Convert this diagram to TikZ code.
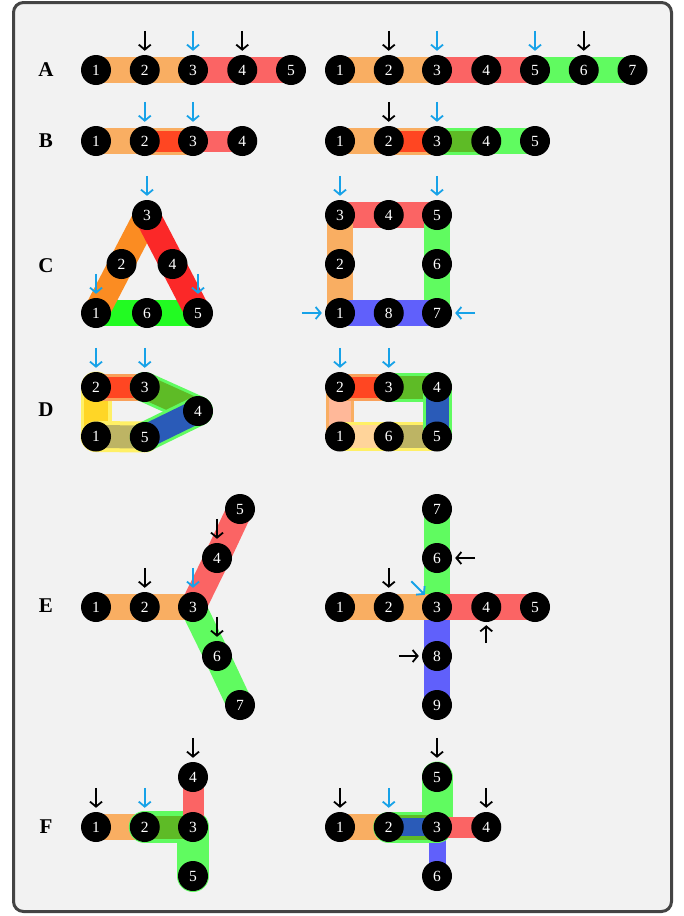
\documentclass[tikz,border=0pt]{standalone}
\usepackage{fontspec}
\setmainfont{Liberation Serif}
\usetikzlibrary{arrows.meta}
\pgfdeclarelayer{bg}
\pgfsetlayers{bg,main}
\definecolor{cOr}{HTML}{F9AE62}
\definecolor{cRd}{HTML}{FB6464}
\definecolor{cGr}{HTML}{60FB60}
\definecolor{cBu}{HTML}{6060FB}
\definecolor{cOrT}{HTML}{FB8C22}
\definecolor{cRdT}{HTML}{FB2828}
\definecolor{cGrT}{HTML}{22FB22}
\definecolor{cRO}{HTML}{FF4622}
\definecolor{cROo}{HTML}{F9A05A}
\definecolor{cDG}{HTML}{5EBB26}
\definecolor{cDB}{HTML}{2A5BB8}
\definecolor{cYe}{HTML}{FFD626}
\definecolor{cYo}{HTML}{FFF066}
\definecolor{cOl}{HTML}{BDB464}
\definecolor{cSa}{HTML}{FFB899}
\definecolor{cPe}{HTML}{FFD49A}
\definecolor{cArB}{HTML}{17A2E8}
\definecolor{cBg}{HTML}{F2F2F2}
\definecolor{cBd}{HTML}{444444}
\newcommand{\arrdn}[2]{\draw[#1] ([yshift=24pt]#2.north) -- ([yshift=4pt]#2.north);}
\newcommand{\arrup}[2]{\draw[#1] ([yshift=-21pt]#2.south) -- ([yshift=-3pt]#2.south);}
\newcommand{\arrlt}[2]{\draw[#1] ([xshift=23pt]#2.east) -- ([xshift=3pt]#2.east);}
\newcommand{\arrrt}[2]{\draw[#1] ([xshift=-23pt]#2.west) -- ([xshift=-3pt]#2.west);}
\begin{document}
\begin{tikzpicture}[x=1pt,y=-1pt,
  nd/.style={circle,fill=black,minimum size=30pt,inner sep=0pt,text=white,font=\fontsize{15.5}{15.5}\selectfont},
  lbl/.style={font=\bfseries\fontsize{21}{21}\selectfont},
  sg/.style={line width=26pt,line cap=round,line join=round,draw=#1},
  ak/.style={-{Straight Barb[length=5pt,width=12pt]},line width=1.8pt,draw=black},
  ab/.style={ak,draw=cArB}]
\useasboundingbox (0,0) rectangle (684,916);
\begin{pgfonlayer}{bg}
\fill[white] (0,0) rectangle (684,916);
\draw[line width=3pt,draw=cBd,fill=cBg,rounded corners=10pt] (13.5,2.5) rectangle (671.5,911.5);
\end{pgfonlayer}

% labels
\node[lbl] (LA) at (46,70) {A};
\node[lbl] (LB) at (46,141) {B};
\node[lbl] (LC) at (46,266) {C};
\node[lbl] (LD) at (46,410) {D};
\node[lbl] (LE) at (46,606) {E};
\node[lbl] (LF) at (46,827) {F};

% ---- A
\node[nd] (a1) at (96,70) {1};
\node[nd] (a2) at (144.75,70) {2};
\node[nd] (a3) at (193,70) {3};
\node[nd] (a4) at (242.25,70) {4};
\node[nd] (a5) at (291,70) {5};
\node[nd] (ar1) at (340,70) {1};
\node[nd] (ar2) at (388.75,70) {2};
\node[nd] (ar3) at (437,70) {3};
\node[nd] (ar4) at (486.25,70) {4};
\node[nd] (ar5) at (535,70) {5};
\node[nd] (ar6) at (583.75,70) {6};
\node[nd] (ar7) at (632.5,70) {7};
% ---- B
\node[nd] (b1) at (96,141) {1};
\node[nd] (b2) at (144.75,141) {2};
\node[nd] (b3) at (193,141) {3};
\node[nd] (b4) at (242.25,141) {4};
\node[nd] (br1) at (340,141) {1};
\node[nd] (br2) at (388.75,141) {2};
\node[nd] (br3) at (437,141) {3};
\node[nd] (br4) at (486.25,141) {4};
\node[nd] (br5) at (535,141) {5};
% ---- C
\node[nd] (c1) at (96,313) {1};
\node[nd] (c2) at (121.5,264) {2};
\node[nd] (c3) at (147,215) {3};
\node[nd] (c4) at (172.5,264) {4};
\node[nd] (c5) at (198,313) {5};
\node[nd] (c6) at (147,313) {6};
\node[nd] (cr3) at (340,215) {3};
\node[nd] (cr4) at (388.75,215) {4};
\node[nd] (cr5) at (437,215) {5};
\node[nd] (cr2) at (340,264) {2};
\node[nd] (cr6) at (437,264) {6};
\node[nd] (cr1) at (340,313) {1};
\node[nd] (cr8) at (388.75,313) {8};
\node[nd] (cr7) at (437,313) {7};
% ---- D
\node[nd] (d2) at (96,387) {2};
\node[nd] (d3) at (144.75,387) {3};
\node[nd] (d4) at (198,411) {4};
\node[nd] (d1) at (96,436.5) {1};
\node[nd] (d5) at (144.75,437) {5};
\node[nd] (dr2) at (340,387) {2};
\node[nd] (dr3) at (388.75,387) {3};
\node[nd] (dr4) at (437,387) {4};
\node[nd] (dr1) at (340,436.5) {1};
\node[nd] (dr6) at (388.75,436.5) {6};
\node[nd] (dr5) at (437,436.5) {5};
% ---- E
\node[nd] (e1) at (96,607) {1};
\node[nd] (e2) at (144.75,607) {2};
\node[nd] (e3) at (193,607) {3};
\node[nd] (e4) at (217,558) {4};
\node[nd] (e5) at (240,509) {5};
\node[nd] (e6) at (217,656) {6};
\node[nd] (e7) at (240,705) {7};
\node[nd] (er1) at (340,607) {1};
\node[nd] (er2) at (388.75,607) {2};
\node[nd] (er3) at (437,607) {3};
\node[nd] (er4) at (486.25,607) {4};
\node[nd] (er5) at (535,607) {5};
\node[nd] (er7) at (437,509) {7};
\node[nd] (er6) at (437,558) {6};
\node[nd] (er8) at (437,656) {8};
\node[nd] (er9) at (437,705) {9};
% ---- F
\node[nd] (f1) at (96,827) {1};
\node[nd] (f2) at (144.75,827) {2};
\node[nd] (f3) at (193,827) {3};
\node[nd] (f4) at (193,777) {4};
\node[nd] (f5) at (193,876) {5};
\node[nd] (fr1) at (340,827) {1};
\node[nd] (fr2) at (388.75,827) {2};
\node[nd] (fr3) at (437,827) {3};
\node[nd] (fr4) at (486.25,827) {4};
\node[nd] (fr5) at (437,777) {5};
\node[nd] (fr6) at (437,876) {6};

\begin{pgfonlayer}{bg}
% A
\draw[sg=cOr] (a1.center) -- (a2.center);
\draw[sg=cOr] (a2.center) -- (a3.center);
\draw[sg=cRd] (a3.center) -- (a4.center);
\draw[sg=cRd] (a4.center) -- (a5.center);
\draw[sg=cOr] (ar1.center) -- (ar2.center);
\draw[sg=cOr] (ar2.center) -- (ar3.center);
\draw[sg=cRd] (ar3.center) -- (ar4.center);
\draw[sg=cRd] (ar4.center) -- (ar5.center);
\draw[sg=cGr] (ar5.center) -- (ar6.center);
\draw[sg=cGr] (ar6.center) -- (ar7.center);
% B
\draw[sg=cOr] (b1.center) -- (b2.center);
\draw[sg=cOr,line width=27pt] (b2.center) -- (b3.center);
\draw[sg=cRO,line width=21pt] (b2.center) -- (b3.center);
\draw[sg=cRd,line width=21pt] (b3.center) -- (b4.center);
\draw[sg=cOr] (br1.center) -- (br2.center);
\draw[sg=cOr,line width=27pt] (br2.center) -- (br3.center);
\draw[sg=cRO,line width=21pt] (br2.center) -- (br3.center);
\draw[sg=cGr,line width=27pt] (br3.center) -- (br4.center);
\draw[sg=cDG,line width=21pt] (br3.center) -- (br4.center);
\draw[sg=cGr] (br4.center) -- (br5.center);
% C
\draw[sg=cGrT] (c1.center) -- (c6.center);
\draw[sg=cGrT] (c6.center) -- (c5.center);
\draw[sg=cOrT] (c1.center) -- (c2.center);
\draw[sg=cOrT] (c2.center) -- (c3.center);
\draw[sg=cRdT] (c3.center) -- (c4.center);
\draw[sg=cRdT] (c4.center) -- (c5.center);
\draw[sg=cRd] (cr3.center) -- (cr4.center);
\draw[sg=cRd] (cr4.center) -- (cr5.center);
\draw[sg=cOr] (cr3.center) -- (cr2.center);
\draw[sg=cOr] (cr2.center) -- (cr1.center);
\draw[sg=cGr] (cr5.center) -- (cr6.center);
\draw[sg=cGr] (cr6.center) -- (cr7.center);
\draw[sg=cBu] (cr1.center) -- (cr8.center);
\draw[sg=cBu] (cr8.center) -- (cr7.center);
% D
\draw[sg=cYo,line width=31pt] (d1.center) -- (d2.center);
\draw[sg=cYe,line width=24pt] (d1.center) -- (d2.center);
\draw[sg=cYo,line width=31pt] (d1.center) -- (d5.center);
\draw[sg=cOl,line width=23pt] (d1.center) -- (d5.center);
\draw[sg=cROo,line width=27pt] (d2.center) -- (d3.center);
\draw[sg=cRO,line width=21pt] (d2.center) -- (d3.center);
\draw[sg=cGr,line width=30pt] (d3.center) -- (d4.center);
\draw[sg=cDG,line width=24pt] (d3.center) -- (d4.center);
\draw[sg=cGr,line width=30pt] (d5.center) -- (d4.center);
\draw[sg=cDB,line width=24pt] (d5.center) -- (d4.center);
\draw[sg=cOr,line width=28pt] (dr2.center) -- (dr1.center);
\draw[sg=cSa,line width=22pt] (dr2.center) -- (dr1.center);
\draw[sg=cYo,line width=29pt] (dr1.center) -- (dr6.center);
\draw[sg=cPe,line width=23pt] (dr1.center) -- (dr6.center);
\draw[sg=cYo,line width=29pt] (dr6.center) -- (dr5.center);
\draw[sg=cOl,line width=23pt] (dr6.center) -- (dr5.center);
\draw[sg=cROo,line width=27pt] (dr2.center) -- (dr3.center);
\draw[sg=cRO,line width=21pt] (dr2.center) -- (dr3.center);
\draw[sg=cGr,line width=29pt] (dr3.center) -- (dr4.center);
\draw[sg=cDG,line width=23pt] (dr3.center) -- (dr4.center);
\draw[sg=cGr,line width=29pt] (dr4.center) -- (dr5.center);
\draw[sg=cDB,line width=23pt] (dr4.center) -- (dr5.center);
% E
\draw[sg=cOr] (e1.center) -- (e2.center);
\draw[sg=cOr] (e2.center) -- (e3.center);
\draw[sg=cRd] (e3.center) -- (e4.center);
\draw[sg=cRd] (e4.center) -- (e5.center);
\draw[sg=cGr] (e3.center) -- (e6.center);
\draw[sg=cGr] (e6.center) -- (e7.center);
\draw[sg=cBu] (er3.center) -- (er8.center);
\draw[sg=cBu] (er8.center) -- (er9.center);
\draw[sg=cGr] (er3.center) -- (er6.center);
\draw[sg=cGr] (er6.center) -- (er7.center);
\draw[sg=cOr] (er1.center) -- (er2.center);
\draw[sg=cOr] (er2.center) -- (er3.center);
\draw[sg=cRd] (er3.center) -- (er4.center);
\draw[sg=cRd] (er4.center) -- (er5.center);
% F
\draw[sg=cOr] (f1.center) -- (f2.center);
\draw[sg=cGr,line width=32pt] (f2.center) -- (f3.center) -- (f5.center);
\draw[sg=cDG,line width=23pt] (f2.center) -- (f3.center);
\draw[sg=cRd,line width=21pt] (f3.center) -- (f4.center);
\draw[sg=cOr] (fr1.center) -- (fr2.center);
\draw[sg=cBu,line width=17pt] (fr3.center) -- (fr6.center);
\draw[sg=cGr,line width=31pt] (fr2.center) -- (fr3.center) -- (fr5.center);
\draw[sg=cRd,line width=21pt] (fr3.center) -- (fr4.center);
\draw[sg=cDG,line width=25pt] (fr2.center) -- (fr3.center);
\draw[sg=cDB,line width=18pt] (fr2.center) -- (fr3.center);
\end{pgfonlayer}

% arrows
\arrdn{ak}{a2} \arrdn{ab}{a3} \arrdn{ak}{a4}
\arrdn{ak}{ar2} \arrdn{ab}{ar3} \arrdn{ab}{ar5} \arrdn{ak}{ar6}
\arrdn{ab}{b2} \arrdn{ab}{b3}
\arrdn{ak}{br2} \arrdn{ab}{br3}
\arrdn{ab}{c3} \arrdn{ab}{c1} \arrdn{ab}{c5}
\arrdn{ab}{cr3} \arrdn{ab}{cr5}
\arrrt{ab}{cr1} \arrlt{ab}{cr7}
\arrdn{ab}{d2} \arrdn{ab}{d3}
\arrdn{ab}{dr2} \arrdn{ab}{dr3}
\arrdn{ak}{e2} \arrdn{ab}{e3} \arrdn{ak}{e4} \arrdn{ak}{e6}
\arrdn{ak}{er2} \arrlt{ak}{er6} \arrup{ak}{er4} \arrrt{ak}{er8}
\draw[ab] ([shift={(-15pt,15pt)}]er3.north west) -- ([shift={(-1.5pt,1.5pt)}]er3.north west);
\arrdn{ak}{f1} \arrdn{ab}{f2} \arrdn{ak}{f4}
\arrdn{ak}{fr1} \arrdn{ab}{fr2} \arrdn{ak}{fr5} \arrdn{ak}{fr4}
\end{tikzpicture}
\end{document}
